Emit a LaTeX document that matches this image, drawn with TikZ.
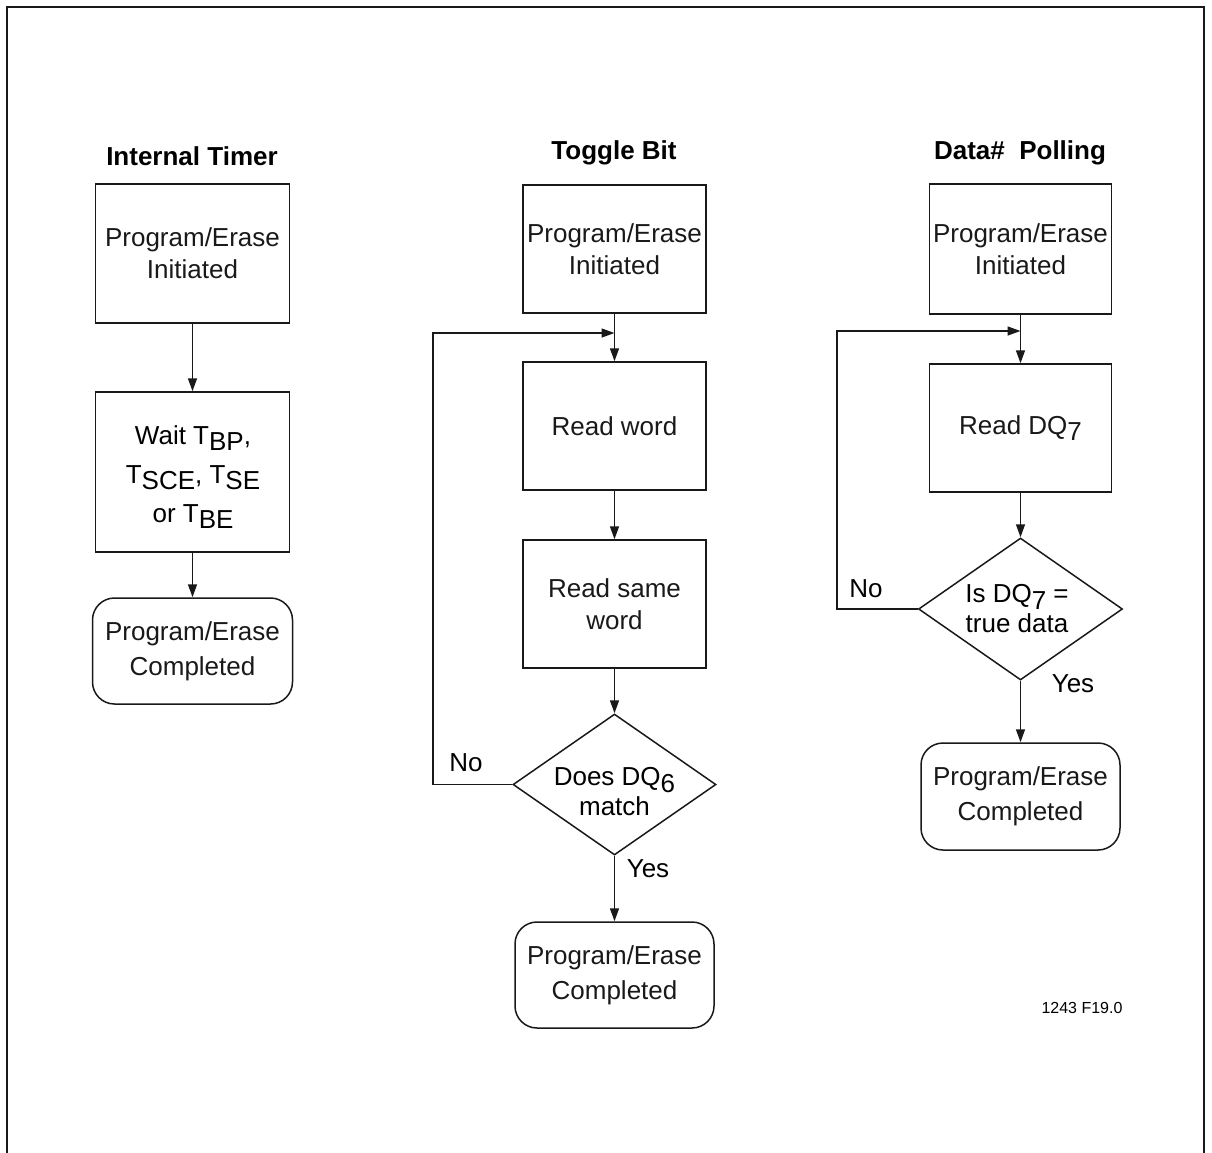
\documentclass[tikz,border=0pt]{standalone}
\usepackage{fontspec}
\setmainfont{Liberation Sans}
\usetikzlibrary{shapes.geometric,arrows.meta}
\newcommand{\lo}[1]{\raisebox{-0.25em}{#1}}
\tikzset{
  px/.style={x=0.5pt,y=-0.5pt},
  line/.style={line width=0.75pt,black!90},
  arr/.style={line, -{Triangle[length=6.5pt,width=4.5pt]}},
  stepbox/.style={draw, line width=0.75pt, black!90, rectangle, inner sep=0pt, align=center,
    font=\fontsize{13}{16}\selectfont},
  endbox/.style={draw, line width=0.75pt, black!90, rectangle, rounded corners=11pt, inner sep=0pt, align=center,
    font=\fontsize{13}{17.5}\selectfont},
  decbox/.style={draw, line width=0.75pt, black!90, diamond, inner sep=0pt},
  dectext/.style={align=center, inner sep=0pt, font=\fontsize{13}{15}\selectfont},
  title/.style={font=\bfseries\fontsize{13}{15}\selectfont, inner sep=0pt},
  lbl/.style={font=\fontsize{13}{15}\selectfont, inner sep=0pt},
}
\begin{document}
\begin{tikzpicture}[px]
\useasboundingbox (0,0) rectangle (1212,1153);
\draw[line] (7,1153) |- (1204,7) -- (1204,1153);

% Column 1: Internal Timer
\node[title] (t1) at (192,156) {Internal Timer};
\node[stepbox, minimum width=97pt, minimum height=69.5pt] (a1) at (192.5,253.5) {Program/Erase\\Initiated};
\node[stepbox, minimum width=97pt, minimum height=80pt] (a2) at (192.5,472) {};
\node[align=center, inner sep=0pt, font=\fontsize{13}{19.5}\selectfont] (a2t) at (193,477)
  {Wait T\lo{BP},\\T\lo{SCE}, T\lo{SE}\\or T\lo{BE}};
\node[endbox, minimum width=100pt, minimum height=53pt] (a3) at (192.5,651) {Program/Erase\\Completed};
\draw[arr] (a1.south) -- (a2.north);
\draw[arr] (a2.south) -- (a3.north);

% Column 2: Toggle Bit
\node[title] (t2) at (614,153) {Toggle Bit};
\node[stepbox, minimum width=91.5pt, minimum height=64pt] (b1) at (614.5,249) {Program/Erase\\Initiated};
\node[stepbox, minimum width=91.5pt, minimum height=64pt] (b2) at (614.5,426) {Read word};
\node[stepbox, minimum width=91.5pt, minimum height=64pt] (b3) at (614.5,604) {Read same\\word};
\node[decbox, minimum width=101.5pt, minimum height=70.5pt] (b4) at (614.5,784.5) {};
\node[dectext] (b4t) at (614.5,792) {Does DQ\lo{6}\\match};
\node[endbox, minimum width=99.5pt, minimum height=53pt] (b5) at (614.5,975) {Program/Erase\\Completed};
\coordinate (bj) at (614.5,333);
\coordinate (bl) at (433,784.5);
\draw[arr] (b1.south) -- (b2.north);
\draw[arr] (b2.south) -- (b3.north);
\draw[arr] (b3.south) -- (b4.north);
\draw[arr] (b4.south) -- (b5.north);
\draw[arr] (b4.west) -- (bl) |- (bj);
\node[lbl] (bno) at (466,763) {No};
\node[lbl] (byes) at (648,869) {Yes};

% Column 3: Data# Polling
\node[title] (t3) at (1020,153) {Data\#\ \ Polling};
\node[stepbox, minimum width=91pt, minimum height=65pt] (c1) at (1020.5,249) {Program/Erase\\Initiated};
\node[stepbox, minimum width=91pt, minimum height=64pt] (c2) at (1020.5,428) {Read DQ\lo{7}};
\node[decbox, minimum width=102pt, minimum height=71pt] (c3) at (1020.5,609) {};
\node[dectext] (c3t) at (1017,609) {Is DQ\lo{7} =\\true data};
\node[endbox, minimum width=99.5pt, minimum height=53.5pt] (c4) at (1020.5,796.5) {Program/Erase\\Completed};
\coordinate (cj) at (1020.5,331);
\coordinate (cl) at (837,609);
\draw[arr] (c1.south) -- (c2.north);
\draw[arr] (c2.south) -- (c3.north);
\draw[arr] (c3.south) -- (c4.north);
\draw[arr] (c3.west) -- (cl) |- (cj);
\node[lbl] (cno) at (866,589) {No};
\node[lbl] (cyes) at (1073,684) {Yes};

\node[inner sep=0pt, font=\fontsize{8}{9}\selectfont] (fig) at (1082,1008) {1243 F19.0};
\end{tikzpicture}
\end{document}
